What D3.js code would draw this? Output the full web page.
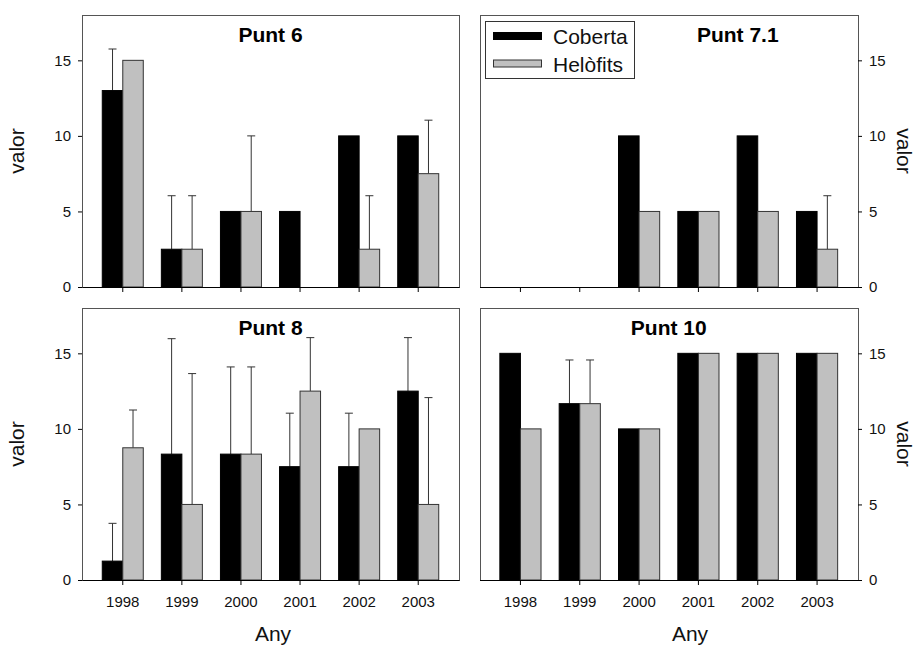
<!DOCTYPE html>
<html>
<head>
<meta charset="utf-8">
<script src="https://cdn.jsdelivr.net/npm/d3@7"></script>
<style>
  html, body { margin: 0; padding: 0; background: #fff; }
  svg { display: block; font-family: "Liberation Sans", Arial, Helvetica, sans-serif; }
</style>
</head>
<body>
<svg id="chart" width="919" height="657"></svg>
<script>
// Years sampled at every site
const years = ["1998", "1999", "2000", "2001", "2002", "2003"];
const seriesNames = ["Coberta", "Helòfits"];
const yTicks = [0, 5, 10, 15];

// Punt 6
const coberta6 = [13, 2.5, 5, 5, 10, 10];
const cobertaErr6 = [2.75, 3.54, 0, 0, 0, 0];
const helofits6 = [15, 2.5, 5, 0, 2.5, 7.5];
const helofitsErr6 = [0, 3.54, 5, 0, 3.54, 3.54];

// Punt 7.1
const coberta71 = [0, 0, 10, 5, 10, 5];
const cobertaErr71 = [0, 0, 0, 0, 0, 0];
const helofits71 = [0, 0, 5, 5, 5, 2.5];
const helofitsErr71 = [0, 0, 0, 0, 0, 3.54];

// Punt 8
const coberta8 = [1.25, 8.33, 8.33, 7.5, 7.5, 12.5];
const cobertaErr8 = [2.5, 7.64, 5.77, 3.54, 3.54, 3.54];
const helofits8 = [8.75, 5, 8.33, 12.5, 10, 5];
const helofitsErr8 = [2.5, 8.66, 5.77, 3.54, 0, 7.07];

// Punt 10
const coberta10 = [15, 11.67, 10, 15, 15, 15];
const cobertaErr10 = [0, 2.89, 0, 0, 0, 0];
const helofits10 = [10, 11.67, 10, 15, 15, 15];
const helofitsErr10 = [0, 2.89, 0, 0, 0, 0];

const panelTitles = ["Punt 6", "Punt 7.1", "Punt 8", "Punt 10"];
const xTitle = "Any";
const yTitle = "valor";

// Layout of the 2x2 grid
const colX = [[82, 459], [479.5, 858]];
const rowY = [[15, 287], [308, 580]];
const xTitleX = [273, 690];
const fillColors = ["#000000", "#c0c0c0"];
const strokeColors = ["#000000", "#333333"];
const FONT = "'Liberation Sans', Arial, Helvetica, sans-serif";

const panels = [
  { title: panelTitles[0], col: 0, row: 0, values: [coberta6, helofits6], errors: [cobertaErr6, helofitsErr6] },
  { title: panelTitles[1], col: 1, row: 0, values: [coberta71, helofits71], errors: [cobertaErr71, helofitsErr71], titleShift: 69, legend: true },
  { title: panelTitles[2], col: 0, row: 1, values: [coberta8, helofits8], errors: [cobertaErr8, helofitsErr8] },
  { title: panelTitles[3], col: 1, row: 1, values: [coberta10, helofits10], errors: [cobertaErr10, helofitsErr10] }
];

const svg = d3.select("#chart");

panels.forEach(p => {
  const [x0, x1] = colX[p.col];
  const [y0, y1] = rowY[p.row];
  const g = svg.append("g");

  const x = d3.scaleBand().domain(years).range([x0, x1])
    .paddingInner(0.306).paddingOuter(0.343);
  const xs = d3.scaleBand().domain(seriesNames).range([0, x.bandwidth()]);
  const y = d3.scaleLinear().domain([0, 18]).range([y1, y0]);

  // Panel frame
  g.append("rect")
    .attr("x", Math.round(x0) + 0.5).attr("y", Math.round(y0) + 0.5)
    .attr("width", Math.round(x1) - Math.round(x0)).attr("height", Math.round(y1) - Math.round(y0))
    .attr("fill", "none").attr("stroke", "#555").attr("stroke-width", 1);

  // Error bars (upper whisker only) drawn beneath the bars
  seriesNames.forEach((s, si) => {
    years.forEach((yr, i) => {
      const v = p.values[si][i], e = p.errors[si][i];
      if (!e) return;
      const cx = x(yr) + xs(s) + xs.bandwidth() / 2;
      g.append("line")
        .attr("x1", cx).attr("x2", cx)
        .attr("y1", y(v)).attr("y2", y(v + e))
        .attr("stroke", "#333").attr("stroke-width", 1);
      g.append("line")
        .attr("x1", cx - 4).attr("x2", cx + 4)
        .attr("y1", y(v + e)).attr("y2", y(v + e))
        .attr("stroke", "#333").attr("stroke-width", 1);
    });
  });

  // Bars
  seriesNames.forEach((s, si) => {
    g.selectAll(null)
      .data(years.map((yr, i) => ({ yr, v: p.values[si][i] })).filter(d => d.v > 0))
      .join("rect")
      .attr("x", d => x(d.yr) + xs(s))
      .attr("y", d => y(d.v))
      .attr("width", xs.bandwidth())
      .attr("height", d => y(0) - y(d.v))
      .attr("fill", fillColors[si])
      .attr("stroke", strokeColors[si])
      .attr("stroke-width", 1);
  });

  // X axis along the zero line
  const xAxis = d3.axisBottom(x).tickSize(5).tickSizeOuter(0).tickPadding(11);
  if (p.row === 0) xAxis.tickFormat(() => "");
  const gx = g.append("g").attr("transform", `translate(0,${y1})`).call(xAxis);
  gx.select(".domain").attr("stroke", "#000");
  gx.selectAll("text").attr("font-size", 15).attr("font-family", FONT).attr("fill", "#111");

  // Y axis: left column on the left, right column on the right
  const yAxis = (p.col === 0 ? d3.axisLeft(y) : d3.axisRight(y))
    .tickValues(yTicks).tickSize(4).tickSizeOuter(0).tickPadding(7);
  const gy = g.append("g").attr("transform", `translate(${p.col === 0 ? x0 : x1},0)`).call(yAxis);
  gy.select(".domain").remove();
  gy.selectAll("text").attr("font-size", 15).attr("font-family", FONT).attr("fill", "#111");

  // Panel title
  g.append("text")
    .attr("x", (x0 + x1) / 2 + (p.titleShift || 0)).attr("y", y0 + 27)
    .attr("text-anchor", "middle")
    .attr("font-size", 21).attr("font-weight", "bold").attr("fill", "#000")
    .text(p.title);

  // Y axis title
  const ty = (y0 + y1) / 2;
  if (p.col === 0) {
    g.append("text")
      .attr("transform", `translate(24,${ty}) rotate(-90)`)
      .attr("text-anchor", "middle").attr("font-size", 21).attr("fill", "#111")
      .text(yTitle);
  } else {
    g.append("text")
      .attr("transform", `translate(897,${ty}) rotate(90)`)
      .attr("text-anchor", "middle").attr("font-size", 21).attr("fill", "#111")
      .text(yTitle);
  }

  // X axis title under the bottom row
  if (p.row === 1) {
    g.append("text")
      .attr("x", xTitleX[p.col]).attr("y", 641)
      .attr("text-anchor", "middle").attr("font-size", 21).attr("fill", "#111")
      .text(xTitle);
  }

  // Legend
  if (p.legend) {
    const lg = g.append("g");
    lg.append("rect")
      .attr("x", 485.5).attr("y", 21.5).attr("width", 149).attr("height", 57)
      .attr("fill", "#fff").attr("stroke", "#333").attr("stroke-width", 1);
    seriesNames.forEach((s, si) => {
      const cy = 36 + si * 27.5;
      lg.append("rect")
        .attr("x", 493.5).attr("y", cy - 3.5).attr("width", 48).attr("height", 7)
        .attr("fill", fillColors[si]).attr("stroke", strokeColors[si]).attr("stroke-width", 1);
      lg.append("text")
        .attr("x", 553).attr("y", cy + 8)
        .attr("font-size", 21).attr("fill", "#111")
        .text(s);
    });
  }
});
</script>
</body>
</html>
